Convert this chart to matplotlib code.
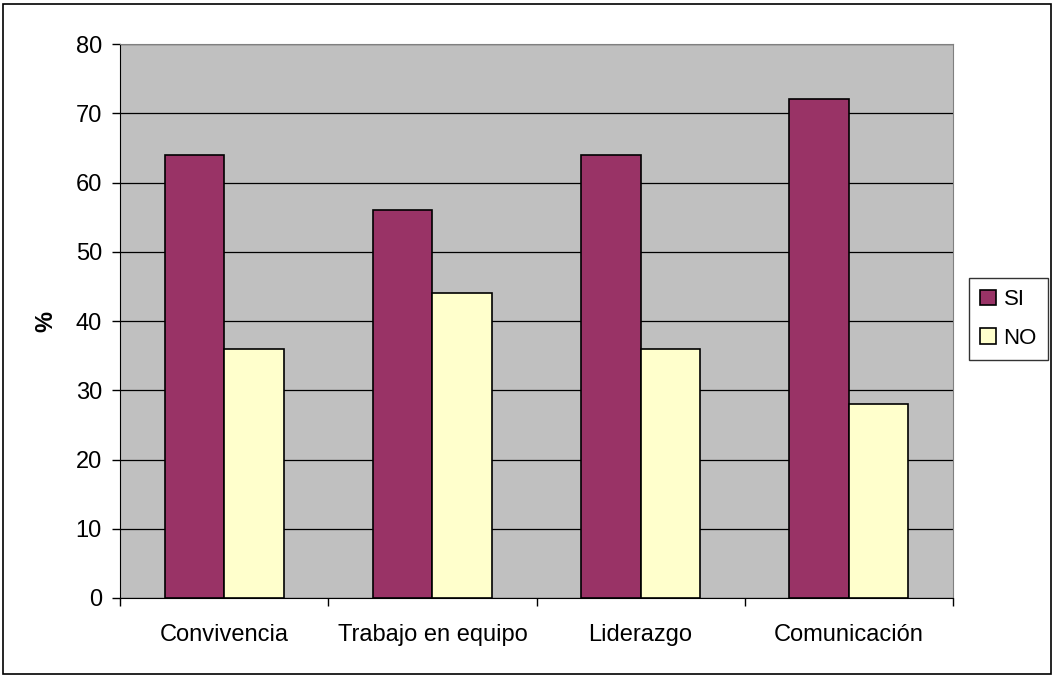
import matplotlib.pyplot as plt
import numpy as np
from matplotlib.patches import Rectangle

categories = ["Convivencia", "Trabajo en equipo", "Liderazgo", "Comunicación"]
si_values = [64, 56, 64, 72]
no_values = [36, 44, 36, 28]
series_names = ["SI", "NO"]
y_ticks = [0, 10, 20, 30, 40, 50, 60, 70, 80]

plt.rcParams['font.family'] = ['Liberation Sans', 'DejaVu Sans']

fig = plt.figure(figsize=(10.55, 6.77), dpi=100)
ax = fig.add_axes([120 / 1055, 1 - 598 / 677, 833 / 1055, 554 / 677])
ax.set_facecolor("#c0c0c0")

x = np.arange(len(categories))
w = 1 / 3.5
ax.bar(x - w / 2, si_values, w, color="#993366", edgecolor="black", linewidth=1.2,
       label=series_names[0], zorder=3)
ax.bar(x + w / 2, no_values, w, color="#ffffcc", edgecolor="black", linewidth=1.2,
       label=series_names[1], zorder=3)

ax.set_xlim(-0.5, len(categories) - 0.5)
ax.set_ylim(0, 80)
ax.set_yticks(y_ticks)
ax.yaxis.grid(True, color="black", linewidth=0.9, zorder=1)
ax.set_axisbelow(True)

ax.set_xticks(x)
ax.set_xticklabels(categories, fontsize=17)
ax.tick_params(axis="x", length=0, pad=19)
ax.set_xticks(np.arange(-0.5, len(categories)), minor=True)
ax.tick_params(axis="x", which="minor", length=6, width=1, direction="out")
ax.tick_params(axis="y", length=6, width=1, direction="out", labelsize=17, pad=7)

for side in ["top", "right"]:
    ax.spines[side].set_color("#808080")
ax.spines["left"].set_color("black")
ax.spines["bottom"].set_color("black")

ax.set_ylabel("%", fontsize=17, fontweight="bold", labelpad=13)

leg = fig.legend(loc="upper right", bbox_to_anchor=(1048 / 1055, 1 - 278 / 677),
                 fontsize=16, frameon=True, fancybox=False, edgecolor="black",
                 handlelength=0.7, handleheight=0.7, handletextpad=0.35,
                 borderpad=0.5, labelspacing=0.8, borderaxespad=0)
leg.get_frame().set_linewidth(1.0)

fig.patches.append(Rectangle((3 / 1055, 3 / 677), 1 - 7 / 1055, 1 - 7 / 677,
                             transform=fig.transFigure, fill=False,
                             edgecolor="black", linewidth=1.2))

fig.savefig("out.png", dpi=100, facecolor="white")
